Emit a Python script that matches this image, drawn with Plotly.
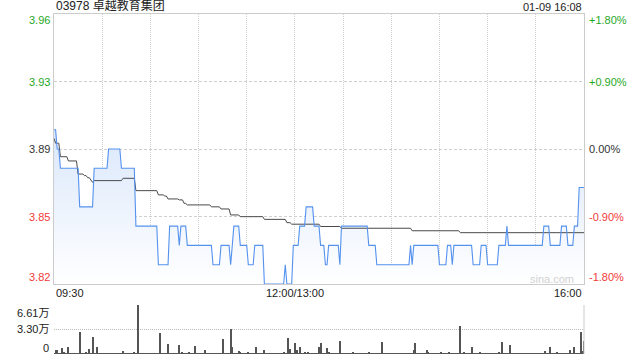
import plotly.graph_objects as go

# ---------------- data ----------------
TITLE = "03978 卓越教育集团"
STAMP = "01-09 16:08"
PREV_CLOSE = 3.89
PCT_TICKS = [1.8, 0.9, 0.0, -0.9, -1.8]
X_LABELS = ["09:30", "12:00/13:00", "16:00"]
X_LABEL_MIN = [0, 150, 330]
TOTAL_MIN = 330

# price: minute at which a new price starts, and that price
PRICE_CHANGE_MIN = [0, 2, 4, 16, 25, 34, 42, 51, 65, 72, 78, 79, 83, 99, 104, 110, 111, 112,
                    116, 121, 125, 131, 144, 145, 149, 153, 157, 162, 166, 169, 171, 178, 179,
                    196, 201, 222, 223, 224, 240, 245, 248, 249, 261, 266, 270, 277, 282, 283,
                    305, 309, 316, 320, 324, 327]
PRICE_CHANGE_VAL = [3.90, 3.89, 3.88, 3.86, 3.88, 3.89, 3.88, 3.85, 3.83, 3.85, 3.84, 3.85, 3.84,
                    3.83, 3.84, 3.83, 3.84, 3.85, 3.84, 3.83, 3.84, 3.82, 3.83, 3.82, 3.84, 3.85,
                    3.86, 3.85, 3.84, 3.83, 3.84, 3.83, 3.85, 3.84, 3.83, 3.84, 3.83, 3.84, 3.83,
                    3.84, 3.83, 3.84, 3.83, 3.84, 3.83, 3.84, 3.85, 3.84, 3.85, 3.84, 3.85, 3.84,
                    3.85, 3.87]

# average price line
AVG_CHANGE_MIN = [0, 1, 4, 9, 15, 19, 21, 23, 24, 25, 43, 51, 65, 69, 71, 78, 81, 83, 98, 104,
                  110, 116, 131, 145, 148, 166, 179, 223, 253]
AVG_CHANGE_VAL = [3.8955, 3.893, 3.886, 3.8838, 3.877, 3.8762, 3.8751, 3.8739, 3.8727, 3.8736,
                  3.8748, 3.8684, 3.8662, 3.8656, 3.8641, 3.8636, 3.8618, 3.861, 3.860, 3.8589,
                  3.8558, 3.8549, 3.8535, 3.8518, 3.851, 3.8498, 3.8489, 3.8476, 3.8466]

# volume per minute (万股)
VOLUME = [
    0.1, 0.5, 0.5, 0.1, 0.1, 0.76, 0.3, 0.1, 0.1, 0.9, 0.1, 0.1, 0.1, 0.1, 0.1, 0.1, 2.97, 0.1, 0.1, 0.1,
    0.2, 0.1, 0.67, 0.1, 2.29, 0.1, 0.1, 0.94, 0.1, 0.1,
    0.1, 0.1, 0.1, 0.1, 0.1, 0.1, 0.1, 0.1, 0.1, 0.1, 0.1, 0.1, 0.1, 0.4, 0.1, 0.1, 0.1, 0.1, 0.1, 0.1,
    0.2, 0.1, 6.61, 0.1, 0.1, 0.1, 0.1, 0.1, 0.1, 0.1,
    0.1, 0.1, 0.1, 0.1, 0.1, 0.1, 2.83, 0.1, 0.1, 0.1, 0.1, 1.35, 0.1, 0.1, 0.1, 0.1, 0.1, 0.1, 1.21, 0.1,
    0.2, 0.1, 0.1, 0.1, 0.2, 0.1, 0.1, 0.1, 1.08, 0.1,
    0.1, 0.1, 0.1, 0.1, 0.54, 0.1, 0.1, 0.1, 0.1, 0.1, 0.1, 0.1, 0.1, 0.1, 0.1, 2.02, 0.1, 0.1, 0.1, 0.1,
    3.37, 0.94, 0.1, 0.1, 0.1, 0.4, 0.2, 0.1, 0.1, 0.1,
    0.1, 0.27, 0.1, 0.1, 0.1, 0.1, 0.94, 0.1, 0.1, 0.1, 0.1, 0.54, 0.1, 0.1, 0.1, 0.1, 0.1, 0.1, 0.1, 0.1,
    0.1, 0.1, 0.1, 0.2, 0.1, 0.1, 2.16, 0.67, 0.1, 0.1,
    1.53, 0.54, 0.1, 0.94, 0.1, 0.1, 0.2, 0.1, 0.15, 0.1, 0.1, 0.1, 0.1, 0.1, 0.1, 0.94, 1.48, 0.1, 0.1, 0.1,
    0.81, 0.2, 0.1, 0.1, 0.1, 0.1, 0.1, 0.1, 1.75, 0.1,
    0.1, 0.1, 0.1, 0.1, 0.1, 0.1, 0.2, 0.1, 0.1, 0.1, 0.1, 0.1, 0.1, 0.1, 0.1, 0.1, 0.31, 0.1, 0.1, 0.1,
    0.1, 0.1, 0.1, 0.1, 1.62, 0.1, 0.1, 0.1, 0.1, 0.1,
    0.1, 0.1, 0.1, 0.1, 0.1, 0.1, 0.1, 0.1, 0.1, 0.1, 0.1, 0.1, 0.1, 0.1, 0.54, 1.48, 0.1, 0.1, 0.1, 0.1,
    0.1, 0.1, 0.54, 0.31, 0.1, 0.1, 0.1, 0.1, 0.1, 0.1,
    0.1, 0.2, 0.1, 0.1, 0.1, 0.1, 0.2, 0.1, 0.1, 0.1, 0.1, 0.1, 0.1, 3.78, 0.1, 0.2, 0.1, 0.1, 0.1, 0.1,
    0.94, 0.1, 0.1, 0.1, 0.1, 0.15, 0.1, 0.1, 0.1, 0.1,
    0.1, 0.1, 0.1, 0.1, 0.1, 0.1, 0.1, 0.31, 0.1, 1.62, 0.1, 0.1, 0.1, 0.1, 1.21, 0.1, 0.1, 0.1, 0.1, 0.1,
    0.1, 0.1, 0.1, 0.1, 0.1, 0.1, 0.1, 0.1, 0.1, 0.1,
    0.1, 0.1, 0.1, 0.1, 0.1, 0.1, 0.4, 0.1, 0.1, 0.94, 0.1, 0.1, 0.1, 0.2, 0.1, 0.1, 0.1, 0.1, 0.1, 0.1,
    0.1, 0.54, 0.1, 0.1, 0.94, 0.1, 0.1, 0.1, 2.97, 0.4, 1.75,
]
VOL_MAX = 6.61
VOL_TICK_VALS = [6.61, 3.305, 0]
VOL_TICK_TEXT = ["6.61万", "3.30万", "0"]


def hold_series(change_min, change_val, n):
    out, j = [], 0
    for t in range(n + 1):
        while j + 1 < len(change_min) and change_min[j + 1] <= t:
            j += 1
        out.append(change_val[j])
    return out


minutes = list(range(TOTAL_MIN + 1))
price = hold_series(PRICE_CHANGE_MIN, PRICE_CHANGE_VAL, TOTAL_MIN)
avg = hold_series(AVG_CHANGE_MIN, AVG_CHANGE_VAL, TOTAL_MIN)

lo = PREV_CLOSE * (1 + PCT_TICKS[-1] / 100)
hi = PREV_CLOSE * (1 + PCT_TICKS[0] / 100)
price_ticks = [PREV_CLOSE * (1 + p / 100) for p in PCT_TICKS]

FONT = "Arial, 'Liberation Sans', 'Noto Sans CJK SC', sans-serif"
GREEN = "#1fa81f"
RED = "#f23a3a"
BLACK = "#333333"
BLUE = "#5592ee"

fig = go.Figure()
fig.add_trace(go.Scatter(
    x=minutes, y=price, mode="lines", line=dict(width=0, color=BLUE),
    fill="tozeroy",
    fillgradient=dict(type="vertical", start=lo, stop=PREV_CLOSE + 0.01,
                      colorscale=[[0, "rgba(255,255,255,1)"], [1, "rgba(218,231,251,1)"]]),
    hoverinfo="skip", showlegend=False, xaxis="x", yaxis="y"))
fig.add_trace(go.Scatter(x=minutes, y=avg, mode="lines", line=dict(width=1, color="#4a4a4a"),
                         showlegend=False, xaxis="x", yaxis="y"))
fig.add_trace(go.Scatter(x=minutes, y=price, mode="lines", line=dict(width=1.1, color=BLUE),
                         showlegend=False, xaxis="x", yaxis="y"))
fig.add_trace(go.Bar(x=minutes, y=VOLUME, width=0.62, marker=dict(color="#555555", line=dict(width=0)),
                     showlegend=False, xaxis="x2", yaxis="y2"))

H = 340.0
fig.update_layout(
    width=640, height=360,
    margin=dict(l=54, r=56, t=14, b=6),
    paper_bgcolor="white", plot_bgcolor="white",
    font=dict(family=FONT, size=11, color=BLACK),
    bargap=0,
    xaxis=dict(domain=[0, 1], range=[0, TOTAL_MIN], anchor="y",
               tickvals=list(range(30, TOTAL_MIN, 30)), showticklabels=False, ticks="",
               showgrid=True, gridcolor="#cfcfcf", griddash="1px,1px", gridwidth=1,
               showline=True, mirror=True, linecolor="#cccccc", linewidth=1, zeroline=False),
    yaxis=dict(domain=[70 / H, 1], range=[lo, hi], anchor="x",
               tickvals=price_ticks[1:-1], showticklabels=False, ticks="",
               showgrid=True, gridcolor="#cfcfcf", griddash="3px,2px", gridwidth=1,
               showline=True, mirror=True, linecolor="#cccccc", linewidth=1, zeroline=False),
    xaxis2=dict(domain=[0, 1], range=[0, TOTAL_MIN], anchor="y2", showticklabels=False,
                showgrid=False, showline=False, zeroline=False, ticks=""),
    yaxis2=dict(domain=[0, 49 / H], range=[0, VOL_MAX], anchor="x2",
                tickvals=VOL_TICK_VALS[:2], showticklabels=False, ticks="",
                showgrid=True, gridcolor="#bdbdbd", griddash="1px,1px", gridwidth=1,
                showline=False, zeroline=False),
)

fig.add_shape(type="line", xref="paper", yref="y2 domain", x0=1, x1=1, y0=0, y1=1,
              line=dict(color="#cccccc", width=1))

ann = []
ann.append(dict(text=TITLE, xref="paper", yref="paper", x=0, y=1, xanchor="left", yanchor="bottom",
                xshift=0, yshift=-1, showarrow=False, font=dict(size=12, color="#222")))
ann.append(dict(text=STAMP, xref="paper", yref="paper", x=1, y=1, xanchor="right", yanchor="bottom",
                yshift=-1, showarrow=False, font=dict(size=11, color="#222")))

n = len(PCT_TICKS)
for i, (p, v) in enumerate(zip(PCT_TICKS, price_ticks)):
    col = GREEN if p > 0 else (RED if p < 0 else BLACK)
    ys = -6 if i == 0 else (7 if i == n - 1 else 0)
    ann.append(dict(text=f"{v:.2f}", xref="paper", yref="y", x=0, y=v, xanchor="right",
                    yanchor="middle", xshift=-2, yshift=ys, showarrow=False, font=dict(color=col)))
    ptxt = "0.00%" if p == 0 else f"{p:+.2f}%"
    ann.append(dict(text=ptxt, xref="paper", yref="y", x=1, y=v, xanchor="left",
                    yanchor="middle", xshift=3, yshift=ys, showarrow=False, font=dict(color=col)))

for lab, m, anc in zip(X_LABELS, X_LABEL_MIN, ["left", "center", "right"]):
    ann.append(dict(text=lab, xref="x", yref="y domain", x=m, y=0, xanchor=anc, yanchor="top",
                    yshift=-1, showarrow=False, font=dict(color="#222")))

for v, t, ys in zip(VOL_TICK_VALS, VOL_TICK_TEXT, [-8, 1, 6]):
    ann.append(dict(text=t, xref="paper", yref="y2", x=0, y=v, xanchor="right", yanchor="middle",
                    xshift=-3, yshift=ys, showarrow=False, font=dict(color="#222")))

ann.append(dict(text="sina.com", xref="paper", yref="y domain", x=0.94, y=0.018, xanchor="center",
                yanchor="middle", showarrow=False, font=dict(size=11, color="#d2d2d2")))

fig.update_layout(annotations=ann)
fig.write_html("out.html")
